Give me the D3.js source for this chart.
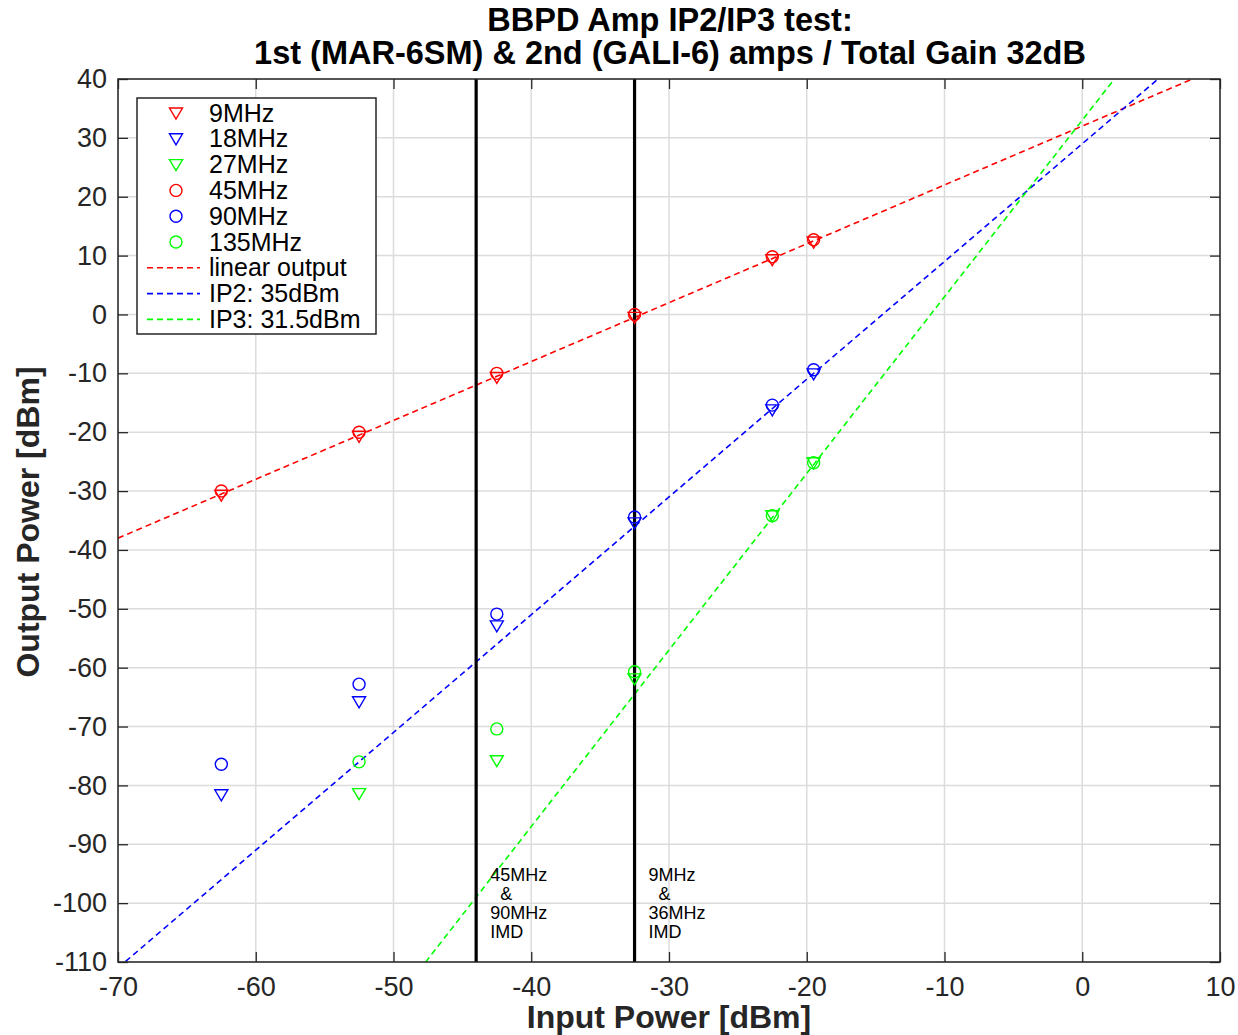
<!DOCTYPE html>
<html>
<head>
<meta charset="utf-8">
<script src="https://cdn.jsdelivr.net/npm/d3@7"></script>
<style>
  body { margin: 0; background: #fff; }
  svg text { font-family: "Liberation Sans", Arial, sans-serif; }
</style>
</head>
<body>
<div id="main-diagram"></div>
<script>
// input powers at which the tones were measured
const inputPower = [-62.5, -52.5, -42.5, -32.5, -22.5, -19.5];

// measured output powers, one array per frequency (null = not measured)
const out9MHz = [-30.7, -20.7, -10.7, -0.5, 9.3, 12.3];
const out18MHz = [-81.6, -65.8, -52.9, -35.4, -16.2, -10.1];
const out27MHz = [null, -81.4, -75.8, -61.9, -34.2, -25.2];
const out45MHz = [-30, -20, -10, 0, 9.8, 12.7];
const out90MHz = [-76.4, -62.8, -50.9, -34.4, -15.4, -9.4];
const out135MHz = [null, -76.0, -70.4, -60.7, -34.2, -25.2];

// fitted lines: slope and offset (dB)
const fitLines = [
  { name: "linear output", slope: 1, offset: 32, colour: "#ff0000" },
  { name: "IP2: 35dBm", slope: 2, offset: 29, colour: "#0000ff" },
  { name: "IP3: 31.5dBm", slope: 3, offset: 33, colour: "#00ff00" },
];

// IMD marker lines
const imdLines = [-44, -32.5];
const imdLabels = [
  ["45MHz", "  &", "90MHz", "IMD"],
  ["9MHz", "  &", "36MHz", "IMD"],
];

const xTicks = [-70, -60, -50, -40, -30, -20, -10, 0, 10];
const yTicks = [40, 30, 20, 10, 0, -10, -20, -30, -40, -50, -60, -70, -80, -90, -100, -110];

const series = [
  { name: "9MHz", values: out9MHz, colour: "#ff0000", shape: "tri" },
  { name: "18MHz", values: out18MHz, colour: "#0000ff", shape: "tri" },
  { name: "27MHz", values: out27MHz, colour: "#00ff00", shape: "tri" },
  { name: "45MHz", values: out45MHz, colour: "#ff0000", shape: "circ" },
  { name: "90MHz", values: out90MHz, colour: "#0000ff", shape: "circ" },
  { name: "135MHz", values: out135MHz, colour: "#00ff00", shape: "circ" },
];

const width = 1238;
const height = 1035;
const plot = { left: 118, right: 1220, top: 79, bottom: 962 };

const svg = d3
  .select("#main-diagram")
  .append("svg")
  .attr("width", width)
  .attr("height", height);

const xScale = d3.scaleLinear().domain([-70, 10]).range([plot.left, plot.right]);
const yScale = d3.scaleLinear().domain([-110, 40]).range([plot.bottom, plot.top]);

svg.append("defs")
  .append("clipPath")
  .attr("id", "plot-clip")
  .append("rect")
  .attr("x", plot.left)
  .attr("y", plot.top)
  .attr("width", plot.right - plot.left)
  .attr("height", plot.bottom - plot.top);

// grid lines
const grid = svg.append("g");
xTicks.forEach(function (t) {
  grid.append("line")
    .attr("x1", xScale(t)).attr("x2", xScale(t))
    .attr("y1", plot.top).attr("y2", plot.bottom)
    .style("stroke", "#dcdcdc").style("stroke-width", 1.5);
});
yTicks.forEach(function (t) {
  grid.append("line")
    .attr("x1", plot.left).attr("x2", plot.right)
    .attr("y1", yScale(t)).attr("y2", yScale(t))
    .style("stroke", "#dcdcdc").style("stroke-width", 1.5);
});

// plain hyphen minus like the original, not the unicode one
const plainFormat = function (d) { return String(d); };

// axes with inward ticks on all four sides
function styleAxis(g) {
  g.select(".domain").remove();
  g.selectAll(".tick line").style("stroke", "#262626").style("stroke-width", 1.3);
  g.selectAll(".tick text")
    .style("font-size", "27px")
    .style("fill", "#262626")
    .style("font-family", '"Liberation Sans", Arial, sans-serif');
}
svg.append("g")
  .attr("transform", `translate(0, ${plot.bottom})`)
  .call(d3.axisBottom(xScale).tickValues(xTicks).tickSize(-10).tickPadding(12).tickFormat(plainFormat))
  .call(styleAxis)
  .selectAll(".tick text").attr("dy", "0.8em");
svg.append("g")
  .attr("transform", `translate(0, ${plot.top})`)
  .call(d3.axisTop(xScale).tickValues(xTicks).tickSize(-10).tickFormat(""))
  .call(styleAxis);
svg.append("g")
  .attr("transform", `translate(${plot.left}, 0)`)
  .call(d3.axisLeft(yScale).tickValues(yTicks).tickSize(-10).tickPadding(11).tickFormat(plainFormat))
  .call(styleAxis);
svg.append("g")
  .attr("transform", `translate(${plot.right}, 0)`)
  .call(d3.axisRight(yScale).tickValues(yTicks).tickSize(-10).tickFormat(""))
  .call(styleAxis);

const inner = svg.append("g").attr("clip-path", "url(#plot-clip)");

// fitted dashed lines
fitLines.forEach(function (l) {
  const pts = [-70, 10].map(function (x) { return { x: x, y: l.slope * x + l.offset }; });
  inner.append("path")
    .datum(pts)
    .attr("d", d3.line().x(function (d) { return xScale(d.x); }).y(function (d) { return yScale(d.y); }))
    .style("fill", "none")
    .style("stroke", l.colour)
    .style("stroke-width", 1.6)
    .style("stroke-dasharray", "6,4");
});

// IMD vertical lines
imdLines.forEach(function (x, i) {
  inner.append("line")
    .attr("x1", xScale(x)).attr("x2", xScale(x))
    .attr("y1", plot.top).attr("y2", plot.bottom)
    .style("stroke", "#000").style("stroke-width", 3.2);
  const txt = svg.append("text")
    .attr("x", xScale(x) + 14)
    .attr("y", 881)
    .style("font-size", "18px")
    .style("fill", "#000");
  imdLabels[i].forEach(function (s, j) {
    txt.append("tspan")
      .attr("x", xScale(x) + 14)
      .attr("dy", j === 0 ? 0 : 19)
      .text(s.replace(/ /g, "\u00a0"));
  });
});

// marker drawing
const triPath = "M-6.5,-5 L6.5,-5 L0,6 Z";
function drawMarker(g, shape, colour) {
  if (shape === "tri") {
    g.append("path").attr("d", triPath)
      .style("fill", "none").style("stroke", colour).style("stroke-width", 1.4);
  } else {
    g.append("circle").attr("r", 6)
      .style("fill", "none").style("stroke", colour).style("stroke-width", 1.4);
  }
}

series.forEach(function (s) {
  s.values.forEach(function (v, i) {
    if (v === null) return;
    const g = svg.append("g")
      .attr("transform", `translate(${xScale(inputPower[i])}, ${yScale(v)})`);
    drawMarker(g, s.shape, s.colour);
  });
});

// axes box
svg.append("rect")
  .attr("x", plot.left).attr("y", plot.top)
  .attr("width", plot.right - plot.left).attr("height", plot.bottom - plot.top)
  .style("fill", "none").style("stroke", "#262626").style("stroke-width", 1.5);

// legend
const legend = svg.append("g");
legend.append("rect")
  .attr("x", 137).attr("y", 98).attr("width", 239).attr("height", 236)
  .style("fill", "#fff").style("stroke", "#262626").style("stroke-width", 1.5);
const legendItems = series.map(function (s) { return { name: s.name, colour: s.colour, kind: s.shape }; })
  .concat(fitLines.map(function (l) { return { name: l.name, colour: l.colour, kind: "line" }; }));
legendItems.forEach(function (item, i) {
  const y = 113 + i * 25.8;
  if (item.kind === "line") {
    legend.append("line")
      .attr("x1", 147).attr("x2", 200).attr("y1", y).attr("y2", y)
      .style("stroke", item.colour).style("stroke-width", 1.6).style("stroke-dasharray", "6,4");
  } else {
    const g = legend.append("g").attr("transform", `translate(176, ${y})`);
    drawMarker(g, item.kind, item.colour);
  }
  legend.append("text")
    .attr("x", 209).attr("y", y + 8.5)
    .style("font-size", "25px").style("fill", "#000")
    .text(item.name);
});

// title and axis labels
svg.append("text")
  .attr("x", 670).attr("y", 31)
  .attr("text-anchor", "middle")
  .style("font-size", "32.5px").style("font-weight", "bold").style("fill", "#000")
  .text("BBPD Amp IP2/IP3 test:");
svg.append("text")
  .attr("x", 670).attr("y", 64)
  .attr("text-anchor", "middle")
  .style("font-size", "32.5px").style("font-weight", "bold").style("fill", "#000")
  .text("1st (MAR-6SM) & 2nd (GALI-6) amps / Total Gain 32dB");
svg.append("text")
  .attr("x", 669).attr("y", 1028)
  .attr("text-anchor", "middle")
  .style("font-size", "32px").style("font-weight", "bold").style("fill", "#262626")
  .text("Input Power [dBm]");
svg.append("text")
  .attr("transform", "translate(39, 522) rotate(-90)")
  .attr("text-anchor", "middle")
  .style("font-size", "32px").style("font-weight", "bold").style("fill", "#262626")
  .text("Output Power [dBm]");
</script>
</body>
</html>
